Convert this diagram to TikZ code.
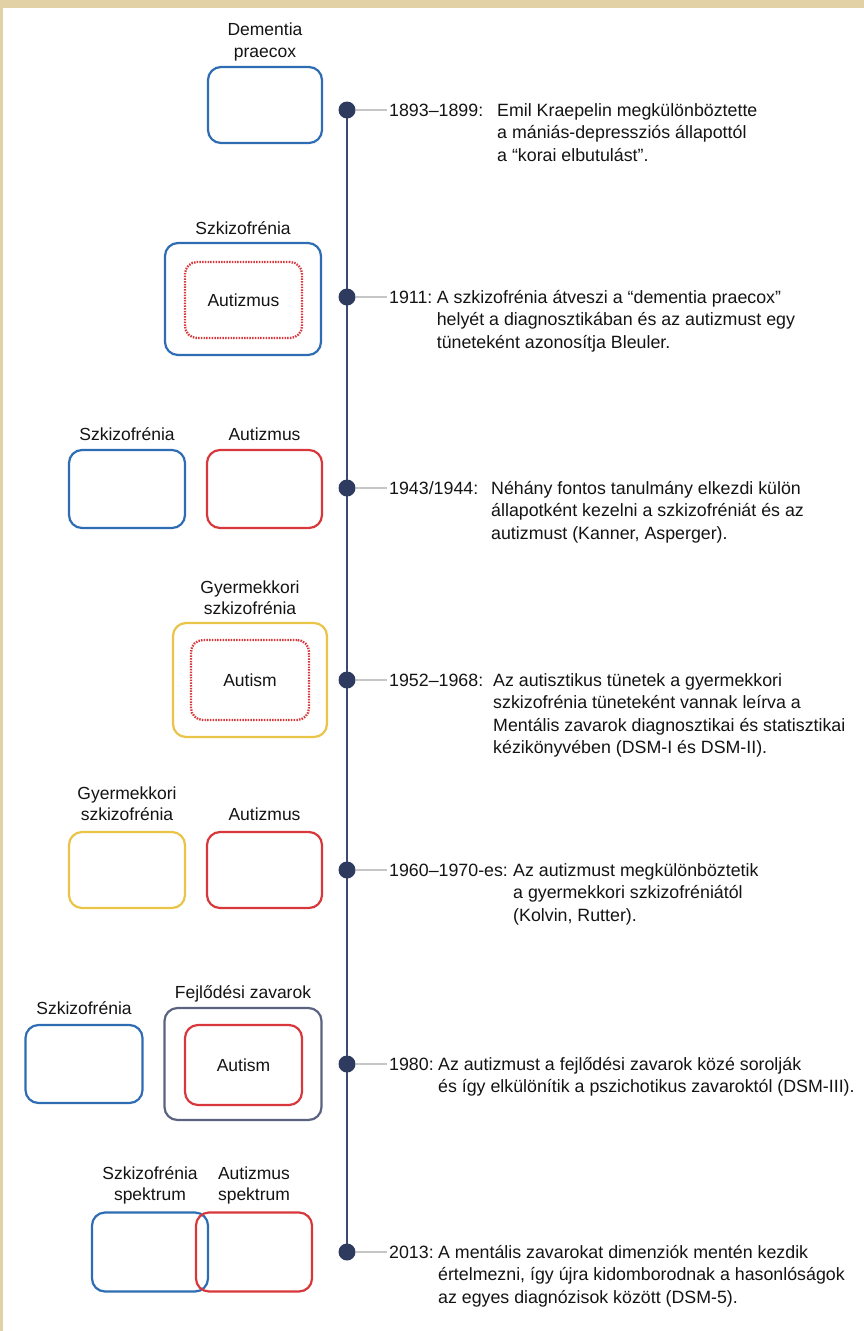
\documentclass[tikz,border=0pt]{standalone}
\usepackage{fontspec}
\setmainfont{Liberation Sans}
\usetikzlibrary{positioning,backgrounds}

\definecolor{szblue}{HTML}{2E6DB4}
\definecolor{aured}{HTML}{D8383C}
\definecolor{gyyellow}{HTML}{E9C447}
\definecolor{fejgray}{HTML}{5B6380}
\definecolor{dotnavy}{HTML}{2F3B5E}
\definecolor{axisblue}{HTML}{3D4877}
\definecolor{parch}{HTML}{E2D1A4}
\definecolor{ink}{HTML}{141414}

\newcommand\txfont{\fontsize{17.8}{22.5}\selectfont\color{ink}}
\newcommand\lbfont{\fontsize{17.5}{21.5}\selectfont\color{ink}}

\tikzset{
  box/.style={draw, rounded corners=13pt, line width=2.2pt},
  szbox/.style={box, draw=szblue},
  aubox/.style={box, draw=aured},
  gybox/.style={box, draw=gyyellow},
  fejbox/.style={box, draw=fejgray},
  inbox/.style={draw=aured, line width=2.3pt, dash pattern=on 1.5pt off 1.2pt, rounded corners=12pt, font=\lbfont},
  lbl/.style={align=center, font=\lbfont, inner sep=0pt},
  dot/.style={circle, fill=dotnavy, minimum size=17pt, inner sep=0pt},
  tick/.style={draw=gray!45, line width=1.6pt, shorten >=2pt},
  axis/.style={draw=axisblue, line width=2.2pt},
  year/.style={anchor=base west, font=\txfont, inner sep=0pt},
  body/.style={anchor=base west, font=\txfont, inner sep=0pt}
}

\begin{document}
\begin{tikzpicture}[x=1pt, y=-1pt]
  \useasboundingbox (0,0) rectangle (864,1331);

  % timeline dots
  \node[dot] (d1) at (347,110) {};
  \node[dot] (d2) at (347,297) {};
  \node[dot] (d3) at (347,488) {};
  \node[dot] (d4) at (347,680) {};
  \node[dot] (d5) at (347,870) {};
  \node[dot] (d6) at (347,1064) {};
  \node[dot] (d7) at (347,1252) {};

  \begin{scope}[on background layer]
    \fill[parch] (0,0) rectangle (864,1331);
    \fill[white] (3,8) rectangle (864,1331);
    \draw[axis] (d1.center) -- (d7.center);
  \end{scope}

  % 1893-1899
  \node[szbox, minimum width=114pt, minimum height=76pt] (dp) at (265,105) {};
  \node[lbl, above=5pt of dp] (dpl) {Dementia\\praecox};
  \node[year] (y1) at (389,116) {1893–1899:};
  \node[body] (b1) at (497,116) {\begin{tabular}[t]{@{}l@{}}Emil Kraepelin megkülönböztette\\a mániás-depressziós állapottól\\a “korai elbutulást”.\end{tabular}};

  % 1911
  \node[szbox, minimum width=156pt, minimum height=112pt] (sz2) at (243,299) {};
  \node[inbox, minimum width=117pt, minimum height=76pt] (au2) at (243.5,300) {Autizmus};
  \node[lbl, above=7pt of sz2] (sz2l) {Szkizofrénia};
  \node[year] (y2) at (389,303) {1911:};
  \node[body] (b2) at ([xshift=4pt]y2.base east) {\begin{tabular}[t]{@{}l@{}}A szkizofrénia átveszi a “dementia praecox”\\helyét a diagnosztikában és az autizmust egy\\tüneteként azonosítja Bleuler.\end{tabular}};

  % 1943/1944
  \node[szbox, minimum width=116pt, minimum height=78pt] (sz3) at (127,489) {};
  \node[aubox, minimum width=115pt, minimum height=78pt] (au3) at (264.5,489) {};
  \node[lbl, above=8pt of sz3] (sz3l) {Szkizofrénia};
  \node[lbl, above=8pt of au3] (au3l) {Autizmus};
  \node[year] (y3) at (389,494) {1943/1944:};
  \node[body] (b3) at (491,494) {\begin{tabular}[t]{@{}l@{}}Néhány fontos tanulmány elkezdi külön\\állapotként kezelni a szkizofréniát és az\\autizmust (Kanner, Asperger).\end{tabular}};

  % 1952-1968
  \node[gybox, minimum width=154pt, minimum height=114pt] (gy4) at (250,680) {};
  \node[inbox, minimum width=118pt, minimum height=80pt] (au4) at (250,680) {Autism};
  \node[lbl, above=7pt of gy4] (gy4l) {Gyermekkori\\szkizofrénia};
  \node[year] (y4) at (389,686) {1952–1968:};
  \node[body] (b4) at (493,686) {\begin{tabular}[t]{@{}l@{}}Az autisztikus tünetek a gyermekkori\\szkizofrénia tüneteként vannak leírva a\\Mentális zavarok diagnosztikai és statisztikai\\kézikönyvében (DSM-I és DSM-II).\end{tabular}};

  % 1960-1970-es
  \node[gybox, minimum width=116pt, minimum height=76pt] (gy5) at (127,870) {};
  \node[aubox, minimum width=115pt, minimum height=76pt] (au5) at (264.5,870) {};
  \node[lbl, above=10pt of gy5] (gy5l) {Gyermekkori\\szkizofrénia};
  \node[lbl, above=10pt of au5] (au5l) {Autizmus};
  \node[year] (y5) at (389,876) {1960–1970-es:};
  \node[body] (b5) at (513,876) {\begin{tabular}[t]{@{}l@{}}Az autizmust megkülönböztetik\\a gyermekkori szkizofréniától\\(Kolvin, Rutter).\end{tabular}};

  % 1980
  \node[szbox, minimum width=117pt, minimum height=78pt] (sz6) at (84,1064) {};
  \node[fejbox, minimum width=157pt, minimum height=112pt] (fej6) at (243,1064) {};
  \node[aubox, minimum width=117pt, minimum height=80pt, font=\lbfont] (au6) at (243.5,1065) {Autism};
  \node[lbl, above=9pt of sz6] (sz6l) {Szkizofrénia};
  \node[lbl, above=5pt of fej6] (fej6l) {Fejlődési zavarok};
  \node[year] (y6) at (389,1070) {1980:};
  \node[body] (b6) at ([xshift=4pt]y6.base east) {\begin{tabular}[t]{@{}l@{}}Az autizmust a fejlődési zavarok közé sorolják\\és így elkülönítik a pszichotikus zavaroktól (DSM-III).\end{tabular}};

  % 2013
  \node[szbox, minimum width=116pt, minimum height=79pt] (sz7) at (150,1252) {};
  \node[aubox, minimum width=116pt, minimum height=79pt] (au7) at (254,1252) {};
  \node[lbl, above=7pt of sz7] (sz7l) {Szkizofrénia\\spektrum};
  \node[lbl, above=7pt of au7] (au7l) {Autizmus\\spektrum};
  \node[year] (y7) at (389,1258) {2013:};
  \node[body] (b7) at ([xshift=4pt]y7.base east) {\begin{tabular}[t]{@{}l@{}}A mentális zavarokat dimenziók mentén kezdik\\értelmezni, így újra kidomborodnak a hasonlóságok\\az egyes diagnózisok között (DSM-5).\end{tabular}};

  % ticks from the dots to the years
  \foreach \i in {1,...,7}
    \draw[tick] (d\i) -- (d\i -| y\i.west);
\end{tikzpicture}
\end{document}
